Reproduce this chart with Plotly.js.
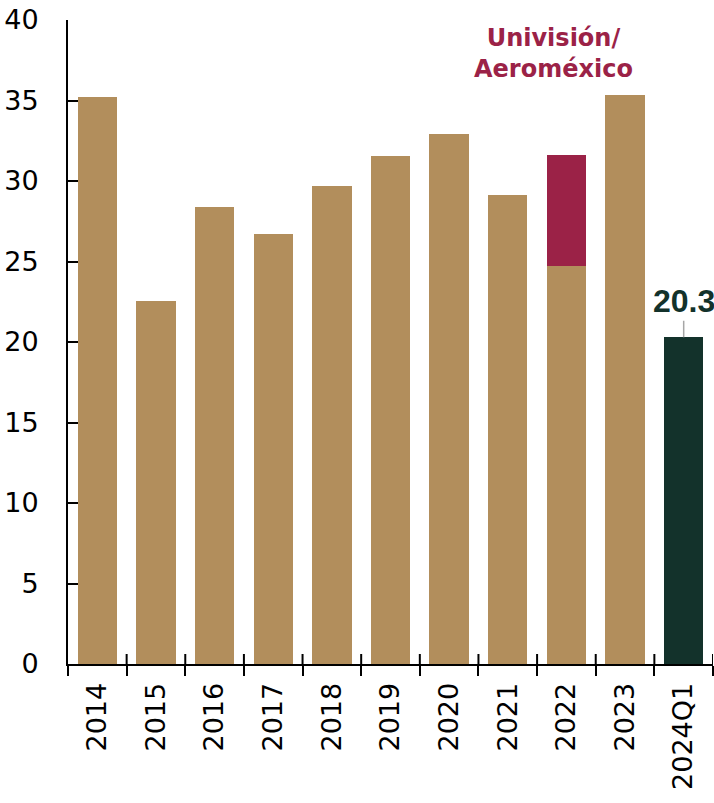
<!DOCTYPE html>
<html>
<head>
<meta charset="utf-8">
<script src="https://cdn.plot.ly/plotly-3.0.1.min.js"></script>
<style>html,body{margin:0;padding:0;background:#fff;}#chart{width:714px;height:803px;}</style>
</head>
<body>
<div id="chart"></div>
<script>
const categories = ['2014','2015','2016','2017','2018','2019','2020','2021','2022','2023','2024Q1'];
const baseValues = [35.2, 22.55, 28.4, 26.7, 29.7, 31.55, 32.9, 29.1, 24.75, 35.35, 0];
const univisionExtra = [0, 0, 0, 0, 0, 0, 0, 0, 6.85, 0, 0];
const latestValues = [0, 0, 0, 0, 0, 0, 0, 0, 0, 0, 20.3];
const latestLabel = '20.3';
const annotationText = 'Univisión/<br>Aeroméxico';
const yTicks = [0, 5, 10, 15, 20, 25, 30, 35, 40];

const tan = '#b28e5c', maroon = '#9b2247', green = '#13322b';
const tickFont = {family: 'DejaVu Sans', size: 27, color: '#000'};
const xRange = [-0.5, categories.length - 0.5];
const boundaries = categories.map((c, i) => i - 0.5).concat([categories.length - 0.5]);

const traces = [
  {type: 'bar', x: categories, y: baseValues, marker: {color: tan}, hoverinfo: 'skip'},
  {type: 'bar', x: categories, y: univisionExtra, marker: {color: maroon}, hoverinfo: 'skip'},
  {type: 'bar', x: categories, y: latestValues, marker: {color: green}, hoverinfo: 'skip'}
];

// upward halves of the crossing category-boundary ticks
const innerTicks = boundaries.slice(1).map(b => ({
  type: 'line', xref: 'x', yref: 'y', x0: b, x1: b,
  ysizemode: 'pixel', yanchor: 0, y0: 0, y1: 10,
  line: {color: '#000', width: 2}, layer: 'above'
}));

const layout = {
  width: 714, height: 803,
  margin: {l: 68, r: 1, t: 20, b: 139},
  barmode: 'stack',
  bargap: 0.33,
  showlegend: false,
  paper_bgcolor: '#fff', plot_bgcolor: '#fff',
  xaxis: {
    type: 'category', categoryorder: 'array', categoryarray: categories, range: xRange,
    tickangle: -90, tickfont: tickFont, ticklabelstandoff: 6,
    showline: true, linecolor: '#000', linewidth: 2,
    ticks: 'outside', tickson: 'boundaries', ticklen: 10, tickwidth: 2, tickcolor: '#000',
    showgrid: false, zeroline: false, fixedrange: true
  },
  yaxis: {
    range: [0, 40], tickvals: yTicks, ticktext: yTicks.map(String),
    tickfont: tickFont, ticklabelstandoff: 22,
    showline: true, linecolor: '#000', linewidth: 2,
    ticks: 'inside', ticklen: 10, tickwidth: 2, tickcolor: '#000',
    showgrid: false, zeroline: false, fixedrange: true
  },
  shapes: innerTicks,
  annotations: [
    {x: categories.indexOf('2022') - 0.22, y: 37.9, xref: 'x', yref: 'y', text: '<b>' + annotationText + '</b>', showarrow: false,
     font: {family: 'DejaVu Sans', size: 24, color: maroon}, align: 'center'},
    {x: categories.indexOf('2024Q1'), y: 20.3, xref: 'x', yref: 'y', text: '<b>' + latestLabel + '</b>',
     showarrow: true, arrowhead: 0, ax: 0, ay: -36, arrowcolor: '#a6a6a6', arrowwidth: 1.5,
     font: {family: 'Liberation Sans', size: 32, color: green}}
  ]
};

Plotly.newPlot('chart', traces, layout, {displayModeBar: false, staticPlot: true});
</script>
</body>
</html>
